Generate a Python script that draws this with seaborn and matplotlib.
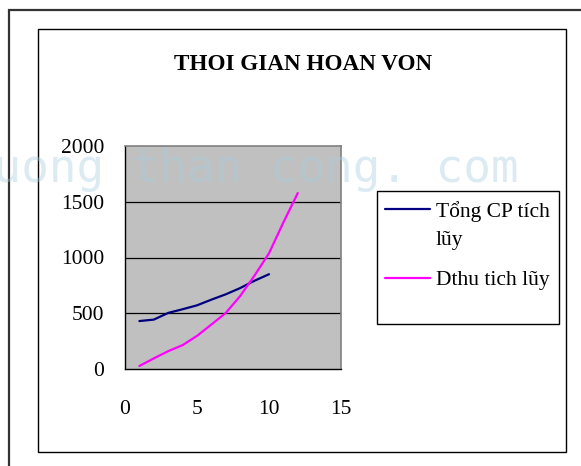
import numpy as np
import pandas as pd
import matplotlib
matplotlib.use("Agg")
import matplotlib.pyplot as plt
import seaborn as sns
from matplotlib.patches import Rectangle
from matplotlib.offsetbox import HPacker

# data
x_cp = [1, 2, 3, 4, 5, 6, 7, 8, 9, 10]
tong_cp = [430, 443, 503, 536, 571, 622, 670, 726, 792, 850]
x_dt = [1, 2, 3, 4, 5, 6, 7, 8, 9, 10, 11, 12]
dthu = [27, 95, 160, 214, 297, 399, 503, 655, 839, 1038, 1315, 1578]

lab_cp = "Tổng CP tích\nlũy"
lab_dt = "Dthu tich lũy"
title = "THOI GIAN HOAN VON"
x_ticks = [0, 5, 10, 15]
y_ticks = [0, 500, 1000, 1500, 2000]

sns.set_style("white")
plt.rcParams["font.family"] = ["Liberation Serif", "DejaVu Serif"]
plt.rcParams["text.color"] = "black"

W, H = 581, 466
fig = plt.figure(figsize=(W / 100, H / 100), dpi=100)


def fx(px):
    return px / W


def fy(py):
    return 1 - py / H


# outer frame and chart border
fig.patches.append(Rectangle((fx(9), fy(600)), 1.5, fy(10) - fy(600), transform=fig.transFigure,
                             fill=False, edgecolor="#333333", linewidth=1.6))
fig.patches.append(Rectangle((fx(38), fy(452)), fx(566) - fx(38), fy(29) - fy(452),
                             transform=fig.transFigure, fill=False, edgecolor="black", linewidth=1.0))

ax = fig.add_axes([fx(125), fy(369), fx(341) - fx(125), fy(146) - fy(369)])
ax.set_facecolor("#c0c0c0")

df_cp = pd.DataFrame({"x": x_cp, "y": tong_cp})
df_dt = pd.DataFrame({"x": x_dt, "y": dthu})
sns.lineplot(data=df_cp, x="x", y="y", ax=ax, color="#000080", linewidth=1.6, label=lab_cp)
sns.lineplot(data=df_dt, x="x", y="y", ax=ax, color="#ff00ff", linewidth=1.6, label=lab_dt)

ax.set_xlim(0, 15)
ax.set_ylim(0, 2000)
ax.set_xticks(x_ticks)
ax.set_yticks(y_ticks)
ax.set_xlabel("")
ax.set_ylabel("")
for y in y_ticks[1:-1]:
    ax.axhline(y, color="black", linewidth=0.9, zorder=1)

for s in ["left", "bottom"]:
    ax.spines[s].set_color("black")
    ax.spines[s].set_linewidth(1.0)
for s in ["top", "right"]:
    ax.spines[s].set_color("#808080")
    ax.spines[s].set_linewidth(1.2)

ax.tick_params(axis="both", direction="out", length=5, width=1, color="black",
               labelsize=15.5, labelcolor="black")
ax.tick_params(axis="x", pad=17)
ax.tick_params(axis="y", pad=10)

fig.text(fx(303), fy(64), title, ha="center", va="center", fontsize=16.7,
         fontweight="bold", color="black")

# legend
fig.patches.append(Rectangle((fx(377), fy(324)), fx(559) - fx(377), fy(191) - fy(324),
                             transform=fig.transFigure, fill=False, edgecolor="black", linewidth=1.0))
leg = ax.legend(loc="upper left", bbox_to_anchor=(fx(385), fy(201)),
                bbox_transform=fig.transFigure, frameon=False, fontsize=15.5,
                handlelength=2.1, handletextpad=0.25, labelspacing=0.95, borderaxespad=0,
                borderpad=0)
for t in leg.get_texts():
    t.set_linespacing(1.68)
    t.set_color("black")
for hp in leg.findobj(lambda a: isinstance(a, HPacker)):
    hp.align = "top"

# watermark
fig.text(fx(-34), fy(182), "cuong than cong. com", fontsize=33, family="DejaVu Sans Mono",
         color="#a9cfe0", alpha=0.4, ha="left", va="baseline", zorder=10)

fig.savefig("out.png", dpi=100)
